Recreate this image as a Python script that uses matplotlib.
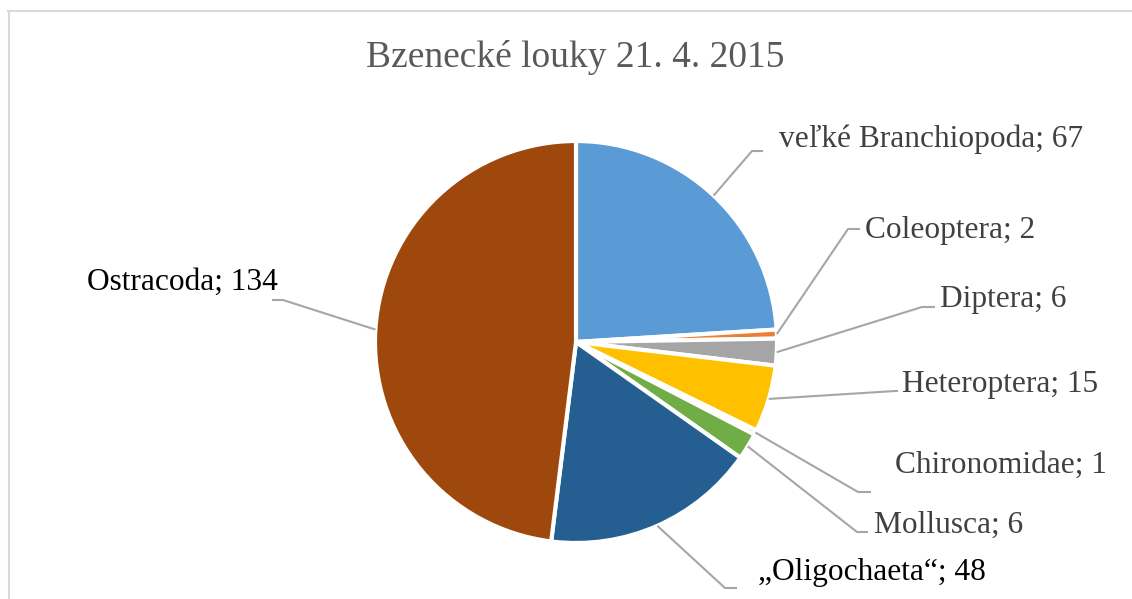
import numpy as np
import matplotlib.pyplot as plt
from matplotlib.lines import Line2D

plt.rcParams['font.family'] = ['Liberation Serif', 'DejaVu Serif']

# data
categories = ["veľké Branchiopoda", "Coleoptera", "Diptera", "Heteroptera",
              "Chironomidae", "Mollusca", "„Oligochaeta“", "Ostracoda"]
counts = [67, 2, 6, 15, 1, 6, 48, 134]
colors = ["#5B9BD5", "#ED7D31", "#A5A5A5", "#FFC000",
          "#4472C4", "#70AD47", "#255E91", "#9E480E"]
label_colors = ["#404040", "#404040", "#404040", "#404040",
                "#404040", "#404040", "#000000", "#000000"]

W, H = 1132, 599
# layout in pixel coords (y from top): elbow, line end, text x, text baseline
layout = [
    ((752, 151), (763, 151), 779, 147),
    ((848, 229), (860, 229), 865, 238),
    ((922, 307), (935, 307), 940, 307),
    ((895, 391), (898, 391), 902, 392),
    ((858, 492), (871, 492), 895, 473),
    ((857, 532), (868, 532), 874, 533),
    ((725, 588), (737, 588), 758, 580),
    ((283, 300), (272, 300), 87, 290),
]

cx, cy, r = 576, 342, 201

fig = plt.figure(figsize=(W / 100, H / 100), dpi=100)
ax = fig.add_axes([0, 0, 1, 1])

ax.pie(counts, colors=colors, startangle=90, counterclock=False,
       center=(cx, H - cy), radius=r,
       wedgeprops=dict(edgecolor="white", linewidth=3))
ax.set_xlim(0, W)
ax.set_ylim(0, H)
ax.set_aspect("auto")
ax.axis("off")

total = sum(counts)
cum = np.cumsum([0] + counts[:-1])
for i, (name, v) in enumerate(zip(categories, counts)):
    theta = np.deg2rad(90 - (cum[i] + v / 2) / total * 360)
    sx = cx + r * np.cos(theta)
    sy = cy - r * np.sin(theta)
    (ex, ey), (lx, ly), tx, ty = layout[i]
    ax.plot([sx, ex, lx], [H - sy, H - ey, H - ly], color="#A6A6A6", lw=1.5,
            solid_capstyle="butt")
    ax.text(tx, H - ty, f"{name}; {v}", ha="left", va="baseline",
            fontsize=22.6, color=label_colors[i])

ax.text(575, H - 67, "Bzenecké louky 21. 4. 2015", ha="center", va="baseline",
        fontsize=27, color="#595959")

# chart frame
fig.add_artist(Line2D([8 / W, 1], [1 - 11 / H, 1 - 11 / H], color="#D9D9D9", lw=1.5))
fig.add_artist(Line2D([9 / W, 9 / W], [0, 1 - 11 / H], color="#D9D9D9", lw=1.5))

fig.savefig("out.png", dpi=100, facecolor="white")
